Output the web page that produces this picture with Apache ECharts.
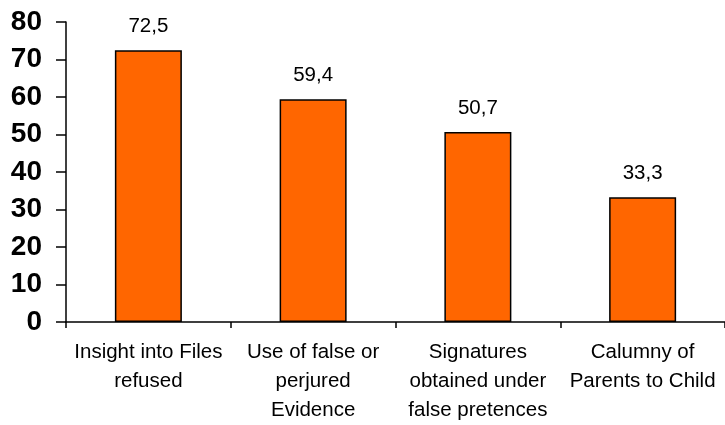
<!DOCTYPE html>
<html>
<head>
<meta charset="utf-8">
<script src="https://cdn.jsdelivr.net/npm/echarts@6/dist/echarts.min.js"></script>
<style>html,body{margin:0;padding:0;background:#fff}#c{width:725px;height:425px}</style>
</head>
<body>
<div id="c"></div>
<script>
var categories = ["Insight into Files\nrefused", "Use of false or\nperjured\nEvidence", "Signatures\nobtained under\nfalse pretences", "Calumny of\nParents to Child"];
var values = [72.5, 59.4, 50.7, 33.3];
var yTicks = [0, 10, 20, 30, 40, 50, 60, 70, 80];

var chart = echarts.init(document.getElementById('c'));
chart.setOption({
  animation: false,
  grid: {left: 66, top: 22, width: 666, height: 301, containLabel: false},
  xAxis: {
    type: 'category',
    data: categories,
    axisLine: {lineStyle: {color: '#000', width: 1.5}},
    axisTick: {show: true, alignWithLabel: false, length: 6, lineStyle: {color: '#000', width: 1.5}},
    axisLabel: {interval: 0, margin: 16, color: '#000', fontSize: 20.5, lineHeight: 29, fontFamily: 'Liberation Sans, Arial, sans-serif'}
  },
  yAxis: {
    type: 'value',
    min: yTicks[0], max: yTicks[yTicks.length - 1], interval: 10,
    splitLine: {show: false},
    axisLine: {show: true, lineStyle: {color: '#000', width: 1.5}},
    axisTick: {show: true, length: 10, lineStyle: {color: '#000', width: 1.5}},
    axisLabel: {margin: 24, color: '#000', fontSize: 28, fontWeight: 'bold', fontFamily: 'Liberation Sans, Arial, sans-serif'}
  },
  series: [{
    type: 'bar',
    data: values,
    barWidth: 67,
    itemStyle: {color: '#FF6600', borderColor: '#000', borderWidth: 1.5},
    label: {
      show: true, position: 'top', distance: 13, color: '#000', fontSize: 20.5,
      fontFamily: 'Liberation Sans, Arial, sans-serif',
      formatter: function (p) { return p.value.toFixed(1).replace('.', ','); }
    }
  }]
});
</script>
</body>
</html>
